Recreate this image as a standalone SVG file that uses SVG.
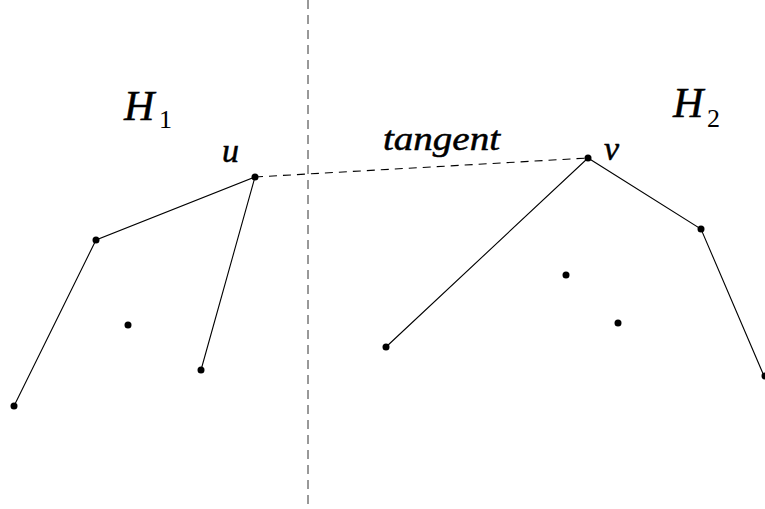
<svg xmlns="http://www.w3.org/2000/svg" width="765" height="509" viewBox="0 0 765 509">
<style>
.lbl{font-family:"Liberation Serif","Times New Roman",serif;font-style:italic;fill:#000;stroke:#000;stroke-width:0.5}
.sub{font-family:"Liberation Serif","Times New Roman",serif;fill:#000}
.edge{stroke:#000;stroke-width:1.1;fill:none}
.dash{stroke:#000;stroke-width:1.1;fill:none;stroke-dasharray:8,6}
.vdash{stroke:#333;stroke-width:1;fill:none;stroke-dasharray:9,6}
.pt{fill:#000}
</style>
<rect width="765" height="509" fill="#fff"/>
<g id="connectors">
<line class="vdash" x1="308" y1="0" x2="308" y2="509"/>
<line class="dash" x1="255" y1="177" x2="588" y2="158"/>
<polyline class="edge" points="14,406 96,240 255,177 201,370"/>
<polyline class="edge" points="386,347 588,158 701,229 764,376"/>
</g>
<g id="H1-points">
<circle class="pt" cx="255" cy="177" r="3.5"/>
<circle class="pt" cx="96" cy="240" r="3.5"/>
<circle class="pt" cx="14" cy="406" r="3.5"/>
<circle class="pt" cx="201" cy="370" r="3.5"/>
<circle class="pt" cx="128" cy="325" r="3.5"/>
</g>
<g id="H2-points">
<circle class="pt" cx="588" cy="158" r="3.5"/>
<circle class="pt" cx="386" cy="347" r="3.5"/>
<circle class="pt" cx="701" cy="229" r="3.5"/>
<circle class="pt" cx="765" cy="376" r="3.5"/>
<circle class="pt" cx="566" cy="275" r="3.5"/>
<circle class="pt" cx="618" cy="323" r="3.5"/>
</g>
<g id="labels">
<text class="lbl" x="124" y="120" font-size="42">H</text>
<text class="sub" x="159" y="128" font-size="26">1</text>
<text class="lbl" x="673" y="117" font-size="42">H</text>
<text class="sub" x="707" y="127" font-size="26">2</text>
<text class="lbl" x="222" y="162" font-size="34">u</text>
<text class="lbl" x="604" y="160" font-size="34">v</text>
<text class="lbl" x="383" y="150" font-size="34" textLength="117" lengthAdjust="spacingAndGlyphs">tangent</text>
</g>
</svg>
